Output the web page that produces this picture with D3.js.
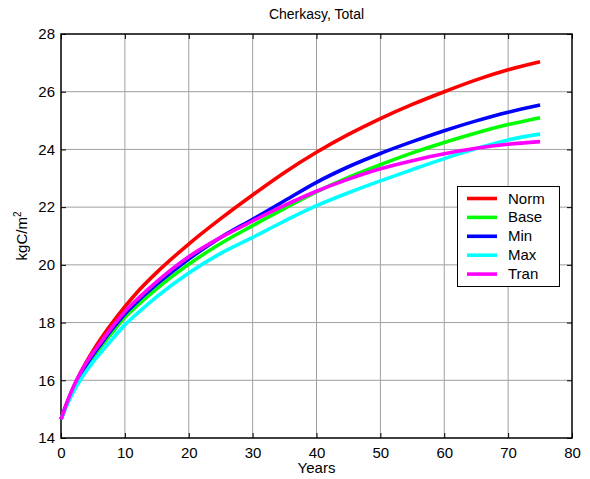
<!DOCTYPE html>
<html><head><meta charset="utf-8">
<script src="https://cdn.jsdelivr.net/npm/d3@7"></script>
<style>body{margin:0;background:#fff}svg{display:block}text{font-family:"Liberation Sans",Arial,sans-serif;fill:#000}</style>
</head><body><svg id="c" width="590" height="479"></svg>
<script>
const years = [0,1,2,3,4,5,6,8,10,12,15,20,25,30,35,40,45,50,55,60,65,70,75];
const norm = [14.65,15.25,15.78,16.24,16.65,17.02,17.36,17.98,18.55,19.07,19.74,20.72,21.6,22.42,23.2,23.9,24.52,25.07,25.56,26.0,26.41,26.76,27.04];
const base = [14.65,15.22,15.71,16.12,16.48,16.8,17.09,17.65,18.18,18.6,19.18,20.02,20.74,21.36,21.96,22.53,23.03,23.47,23.88,24.24,24.57,24.86,25.1];
const minS = [14.65,15.24,15.75,16.18,16.55,16.88,17.18,17.77,18.3,18.74,19.33,20.2,20.95,21.58,22.22,22.86,23.4,23.86,24.27,24.65,24.99,25.29,25.54];
const maxS = [14.65,15.17,15.62,16.0,16.33,16.63,16.9,17.42,17.92,18.33,18.9,19.72,20.4,20.95,21.52,22.05,22.5,22.91,23.3,23.68,24.03,24.33,24.53];
const tran = [14.65,15.27,15.8,16.24,16.62,16.95,17.25,17.84,18.38,18.82,19.42,20.28,20.95,21.52,22.06,22.55,22.97,23.33,23.61,23.85,24.04,24.18,24.27];
const seriesNames = ["Norm","Base","Min","Max","Tran"];
const seriesColors = ["#ff0000","#00ff00","#0000ff","#00ffff","#ff00ff"];
const xTicks = [0,10,20,30,40,50,60,70,80];
const yTicks = [14,16,18,20,22,24,26,28];

const svg = d3.select("#c");
const L=61,R=572,T=34,B=438;
const x = d3.scaleLinear().domain([0,80]).range([L,R]);
const y = d3.scaleLinear().domain([14,28]).range([B,T]);

// grid
const g = svg.append("g");
g.selectAll(".gx").data(xTicks.slice(1,-1)).enter().append("line")
  .attr("x1",d=>x(d)).attr("x2",d=>x(d)).attr("y1",T).attr("y2",B)
  .attr("stroke","#a0a0a0").attr("stroke-width",1);
g.selectAll(".gy").data(yTicks.slice(1,-1)).enter().append("line")
  .attr("x1",L).attr("x2",R).attr("y1",d=>y(d)).attr("y2",d=>y(d))
  .attr("stroke","#a0a0a0").attr("stroke-width",1);

// axes
const fs = 15;
const xa = svg.append("g").attr("transform",`translate(0,${B})`)
  .call(d3.axisBottom(x).tickValues(xTicks).tickSizeInner(-5).tickSizeOuter(0).tickPadding(9));
const ya = svg.append("g").attr("transform",`translate(${L},0)`)
  .call(d3.axisLeft(y).tickValues(yTicks).tickSizeInner(-5).tickSizeOuter(0).tickPadding(6));
const xt = svg.append("g").attr("transform",`translate(0,${T})`)
  .call(d3.axisTop(x).tickValues(xTicks).tickSizeInner(-5).tickSizeOuter(0).tickFormat(""));
const yr = svg.append("g").attr("transform",`translate(${R},0)`)
  .call(d3.axisRight(y).tickValues(yTicks).tickSizeInner(-5).tickSizeOuter(0).tickFormat(""));
[xa,ya,xt,yr].forEach(a=>{
  a.select(".domain").remove();
  a.selectAll("line").attr("stroke","#000");
  a.selectAll("text").style("font-size",fs+"px").style("font-family",'"Liberation Sans",Arial,sans-serif').attr("fill","#000");
});
svg.append("rect").attr("x",L).attr("y",T).attr("width",R-L).attr("height",B-T)
  .attr("fill","none").attr("stroke","#000").attr("stroke-width",1.5);

// lines
const all = [norm,base,minS,maxS,tran];
const line = d3.line().x((d,i)=>x(years[i])).y(d=>y(d)).curve(d3.curveMonotoneX);
all.forEach((s,i)=>{
  svg.append("path").datum(s).attr("d",line).attr("fill","none")
    .attr("stroke",seriesColors[i]).attr("stroke-width",3.6).attr("stroke-linejoin","round");
});

// labels
svg.append("text").attr("x",(L+R)/2).attr("y",19).attr("text-anchor","middle").style("font-size","14px").text("Cherkasy, Total");
svg.append("text").attr("x",(L+R)/2).attr("y",473).attr("text-anchor","middle").style("font-size",fs+"px").text("Years");
const yl = svg.append("text").attr("transform",`translate(27,${(T+B)/2}) rotate(-90)`).attr("text-anchor","middle").style("font-size",fs+"px");
yl.append("tspan").text("kgC/m");
yl.append("tspan").attr("dy",-6).style("font-size","10px").text("2");

// legend
const lg = svg.append("g");
lg.append("rect").attr("x",457.5).attr("y",186.5).attr("width",102).attr("height",100)
  .attr("fill","#fff").attr("stroke","#000").attr("stroke-width",1);
seriesNames.forEach((n,i)=>{
  const yy = 198.5 + i*18.9;
  lg.append("line").attr("x1",467).attr("x2",497).attr("y1",yy).attr("y2",yy)
    .attr("stroke",seriesColors[i]).attr("stroke-width",3.6);
  lg.append("text").attr("x",508).attr("y",yy+5).style("font-size",fs+"px").text(n);
});
</script></body></html>
